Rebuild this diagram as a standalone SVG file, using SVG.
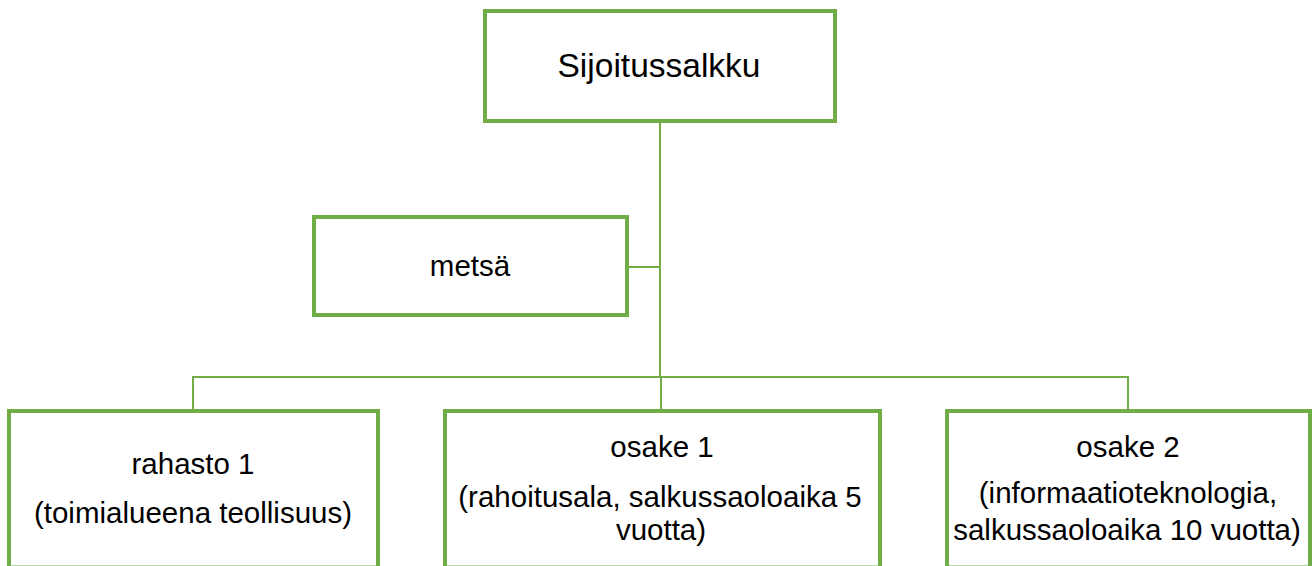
<svg xmlns="http://www.w3.org/2000/svg" width="1314" height="566" viewBox="0 0 1314 566">
<style>
.box{fill:#FFFFFF;stroke:#70AD47;stroke-width:4}
.conn{fill:none;stroke:#70AD47;stroke-width:2}
text{font-family:"Liberation Sans",Arial,sans-serif;fill:#000000;text-anchor:middle}
.t{font-size:29.5px}
.big{font-size:33.5px}
</style>
<rect width="1314" height="566" fill="#FFFFFF"/>
<g id="connectors">
<path class="conn" d="M660,123 V377"/>
<path class="conn" d="M629,267 H660"/>
<path class="conn" d="M193,409 V377 H1128 V409"/>
<path class="conn" d="M661,377 V409"/>
</g>
<g id="sijoitussalkku">
<rect class="box" x="485" y="11" width="350" height="110"/>
<text class="big" x="659" y="77">Sijoitussalkku</text>
</g>
<g id="metsa">
<rect class="box" x="314" y="217" width="313" height="98"/>
<text class="t" x="470" y="276">metsä</text>
</g>
<g id="rahasto1">
<rect class="box" x="9" y="411" width="369" height="156.5"/>
<text class="t" x="193" y="474">rahasto 1</text>
<text class="t" x="193" y="523">(toimialueena teollisuus)</text>
</g>
<g id="osake1">
<rect class="box" x="445" y="411" width="435" height="156.5"/>
<text class="t" x="662" y="457">osake 1</text>
<text class="t" x="660" y="507">(rahoitusala, salkussaoloaika 5</text>
<text class="t" x="661" y="540">vuotta)</text>
</g>
<g id="osake2">
<rect class="box" x="947" y="411" width="363" height="156.5"/>
<text class="t" x="1128" y="457">osake 2</text>
<text class="t" x="1128" y="503">(informaatioteknologia,</text>
<text class="t" x="1127" y="540">salkussaoloaika 10 vuotta)</text>
</g>
</svg>
